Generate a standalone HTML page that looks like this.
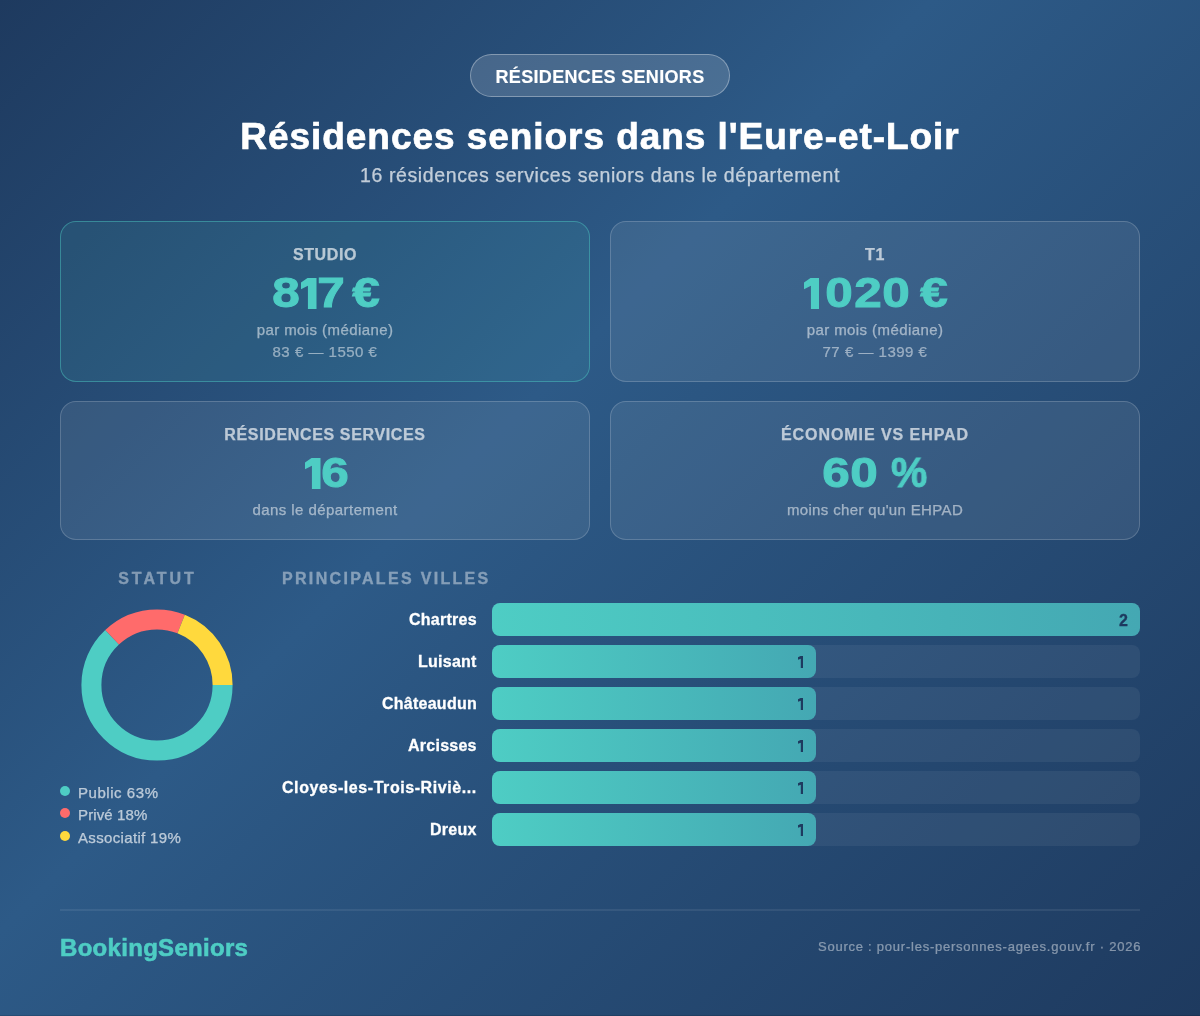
<!DOCTYPE html>
<html lang="fr">
<head>
<meta charset="utf-8">
<style>
*{box-sizing:border-box;margin:0;padding:0}
html,body{width:1200px;height:1016px;overflow:hidden}
body{font-family:"Liberation Sans",sans-serif;background:linear-gradient(135deg,#1e3a5f 0%,#2d5a87 42%,#1e3a5f 100%);color:#fff;position:relative}
.t{position:absolute;white-space:nowrap;line-height:1;will-change:transform}
.badge{position:absolute;left:470px;top:54px;width:260px;height:43px;border-radius:22px;background:rgba(255,255,255,0.15);border:1px solid rgba(255,255,255,0.33)}
.card{position:absolute;border-radius:16px;background:rgba(255,255,255,0.08);border:1px solid rgba(255,255,255,0.18)}
.card.hl{background:rgba(78,205,196,0.10);border-color:rgba(78,205,196,0.45)}
.c{left:0;width:100%;text-align:center}
.lbl{font-weight:700;font-size:16px;letter-spacing:0.6px;color:#fff;-webkit-text-stroke:0.25px #fff;opacity:0.67}
.val span{position:absolute;top:49.2px;font-weight:700;font-size:43px;line-height:1;color:#4ecdc4;-webkit-text-stroke:1px #4ecdc4;will-change:transform}
.s1{font-size:15px;color:#fff;-webkit-text-stroke:0.25px #fff;opacity:0.53}
.s2{font-size:15px;color:#fff;-webkit-text-stroke:0.2px #fff;opacity:0.5}
.sec{font-weight:700;font-size:16px;letter-spacing:3px;color:#fff;-webkit-text-stroke:0.3px #fff;opacity:0.42}
.leg{left:78px;font-size:15px;letter-spacing:0.55px;color:#fff;-webkit-text-stroke:0.25px #fff;opacity:0.68}
.dot{position:absolute;left:60px;width:10px;height:10px;border-radius:50%}
.nm{right:723px;font-weight:700;font-size:16px;letter-spacing:0.25px;color:#fff;-webkit-text-stroke:0.3px #fff;text-align:right}
.tr{position:absolute;left:492px;width:648px;height:33px;border-radius:8px;background:rgba(255,255,255,0.06)}
.fl{position:absolute;left:0;top:0;height:33px;border-radius:8px;background:linear-gradient(90deg,#4ecdc4,#44a8b3)}
.num{right:12.6px;top:10px;font-weight:700;font-size:16px;color:#1e3a5f;-webkit-text-stroke:0.3px #1e3a5f}
</style>
</head>
<body>
<div class="badge"></div>
<div class="t c" style="top:68px;font-weight:700;font-size:18px;letter-spacing:0.33px;-webkit-text-stroke:0.15px #fff">RÉSIDENCES SENIORS</div>
<div class="t c" style="top:118px;font-weight:700;font-size:37px;letter-spacing:0.95px;-webkit-text-stroke:0.7px #fff">Résidences seniors dans l'Eure-et-Loir</div>
<div class="t c" style="top:165.5px;font-size:19.5px;letter-spacing:0.6px;color:#fff;-webkit-text-stroke:0.25px #fff;opacity:0.72">16 résidences services seniors dans le département</div>

<div class="card hl" style="left:60px;top:221px;width:530px;height:161px">
  <div class="t c lbl" style="top:25px">STUDIO</div>
  <div class="val"><span style="left:212.65px;transform:scaleX(1.15);transform-origin:12px 0">8</span><svg style="position:absolute;left:240.3px;top:56px" width="15.5" height="31" viewBox="0 0 15 31" preserveAspectRatio="none"><polygon fill="#4ecdc4" points="0,4.4 6.3,0 15,0 15,31 6.7,31 6.7,7.7 0,11.2"/></svg><span style="left:257.95px;transform:scaleX(1.15);transform-origin:12px 0">7</span><span style="left:293px;transform:scaleX(1.15);transform-origin:12px 0">€</span></div>
  <div class="t c s1" style="top:100px;letter-spacing:0.41px">par mois (médiane)</div>
  <div class="t c s2" style="top:122px;letter-spacing:0.5px">83 € — 1550 €</div>
</div>
<div class="card" style="left:610px;top:221px;width:530px;height:161px">
  <div class="t c lbl" style="top:25px">T1</div>
  <div class="val"><svg style="position:absolute;left:192.7px;top:56px" width="15.5" height="31" viewBox="0 0 15 31" preserveAspectRatio="none"><polygon fill="#4ecdc4" points="0,4.4 6.3,0 15,0 15,31 6.7,31 6.7,7.7 0,11.2"/></svg><span style="left:216.15px;transform:scaleX(1.15);transform-origin:12px 0">0</span><span style="left:245.2px;transform:scaleX(1.15);transform-origin:12px 0">2</span><span style="left:272.5px;transform:scaleX(1.15);transform-origin:12px 0">0</span><span style="left:310.7px;transform:scaleX(1.15);transform-origin:12px 0">€</span></div>
  <div class="t c s1" style="top:100px;letter-spacing:0.41px">par mois (médiane)</div>
  <div class="t c s2" style="top:122px;letter-spacing:0.5px">77 € — 1399 €</div>
</div>
<div class="card" style="left:60px;top:401px;width:530px;height:139px">
  <div class="t c lbl" style="top:25px;letter-spacing:0.64px">RÉSIDENCES SERVICES</div>
  <div class="val"><svg style="position:absolute;left:244.2px;top:56px" width="15.5" height="31" viewBox="0 0 15 31" preserveAspectRatio="none"><polygon fill="#4ecdc4" points="0,4.4 6.3,0 15,0 15,31 6.7,31 6.7,7.7 0,11.2"/></svg><span style="left:262.1px;transform:scaleX(1.15);transform-origin:12px 0">6</span></div>
  <div class="t c s1" style="top:100px;letter-spacing:0.44px">dans le département</div>
</div>
<div class="card" style="left:610px;top:401px;width:530px;height:139px">
  <div class="t c lbl" style="top:25px;letter-spacing:0.94px">ÉCONOMIE VS EHPAD</div>
  <div class="val"><span style="left:212.6px;transform:scaleX(1.15);transform-origin:12px 0">6</span><span style="left:241px;transform:scaleX(1.15);transform-origin:12px 0">0</span><span style="left:279.35px;transform:scaleX(0.95);transform-origin:19px 0">%</span></div>
  <div class="t c s1" style="top:100px;letter-spacing:0.35px">moins cher qu'un EHPAD</div>
</div>

<div class="t sec" style="left:60px;width:195px;text-align:center;top:571px">STATUT</div>
<svg style="position:absolute;left:77px;top:605px" width="160" height="160" viewBox="0 0 160 160">
  <circle cx="80" cy="80" r="65.6" fill="none" stroke="#4ecdc4" stroke-width="20" pathLength="100" stroke-dasharray="63 37" stroke-dashoffset="0"/>
  <circle cx="80" cy="80" r="65.6" fill="none" stroke="#ff6b6b" stroke-width="20" pathLength="100" stroke-dasharray="18 82" stroke-dashoffset="-63"/>
  <circle cx="80" cy="80" r="65.6" fill="none" stroke="#ffd93d" stroke-width="20" pathLength="100" stroke-dasharray="19 81" stroke-dashoffset="-81"/>
</svg>
<div class="dot" style="top:786px;background:#4ecdc4"></div>
<div class="t leg" style="top:785px">Public 63%</div>
<div class="dot" style="top:808px;background:#ff6b6b"></div>
<div class="t leg" style="top:807px;letter-spacing:0.13px">Privé 18%</div>
<div class="dot" style="top:831px;background:#ffd93d"></div>
<div class="t leg" style="top:830px;letter-spacing:0.34px">Associatif 19%</div>

<div class="t sec" style="left:282px;top:571px;letter-spacing:2.32px">PRINCIPALES VILLES</div>

<div class="t nm" style="top:612px">Chartres</div>
<div class="tr" style="top:603px"><div class="fl" style="width:648px"><div class="t num">2</div></div></div>
<div class="t nm" style="top:654px">Luisant</div>
<div class="tr" style="top:645px"><div class="fl" style="width:324px"><svg style="position:absolute;left:305.6px;top:11px" width="5.6" height="12" viewBox="0 0 5.4 11.85" preserveAspectRatio="none"><polygon fill="#1e3a5f" points="0,1.2 2.4,0 5.4,0 5.4,11.85 2.7,11.85 2.7,2.6 0,3.6"/></svg></div></div>
<div class="t nm" style="top:696px">Châteaudun</div>
<div class="tr" style="top:687px"><div class="fl" style="width:324px"><svg style="position:absolute;left:305.6px;top:11px" width="5.6" height="12" viewBox="0 0 5.4 11.85" preserveAspectRatio="none"><polygon fill="#1e3a5f" points="0,1.2 2.4,0 5.4,0 5.4,11.85 2.7,11.85 2.7,2.6 0,3.6"/></svg></div></div>
<div class="t nm" style="top:738px">Arcisses</div>
<div class="tr" style="top:729px"><div class="fl" style="width:324px"><svg style="position:absolute;left:305.6px;top:11px" width="5.6" height="12" viewBox="0 0 5.4 11.85" preserveAspectRatio="none"><polygon fill="#1e3a5f" points="0,1.2 2.4,0 5.4,0 5.4,11.85 2.7,11.85 2.7,2.6 0,3.6"/></svg></div></div>
<div class="t nm" style="top:780px;letter-spacing:0.57px">Cloyes-les-Trois-Riviè...</div>
<div class="tr" style="top:771px"><div class="fl" style="width:324px"><svg style="position:absolute;left:305.6px;top:11px" width="5.6" height="12" viewBox="0 0 5.4 11.85" preserveAspectRatio="none"><polygon fill="#1e3a5f" points="0,1.2 2.4,0 5.4,0 5.4,11.85 2.7,11.85 2.7,2.6 0,3.6"/></svg></div></div>
<div class="t nm" style="top:822px">Dreux</div>
<div class="tr" style="top:813px"><div class="fl" style="width:324px"><svg style="position:absolute;left:305.6px;top:11px" width="5.6" height="12" viewBox="0 0 5.4 11.85" preserveAspectRatio="none"><polygon fill="#1e3a5f" points="0,1.2 2.4,0 5.4,0 5.4,11.85 2.7,11.85 2.7,2.6 0,3.6"/></svg></div></div>

<div style="position:absolute;left:60px;top:909px;width:1080px;height:2px;background:rgba(255,255,255,0.075)"></div>
<div class="t" style="left:60px;top:936px;font-weight:700;font-size:24px;letter-spacing:0.3px;-webkit-text-stroke:0.6px #4ecdc4;color:#4ecdc4">BookingSeniors</div>
<div class="t" style="right:59px;top:940px;font-size:13px;letter-spacing:0.76px;color:#fff;-webkit-text-stroke:0.2px #fff;opacity:0.45">Source : pour-les-personnes-agees.gouv.fr · 2026</div>
<div style="position:absolute;left:0;top:1015px;width:1200px;height:1px;background:rgba(0,0,0,0.12)"></div>
</body>
</html>
